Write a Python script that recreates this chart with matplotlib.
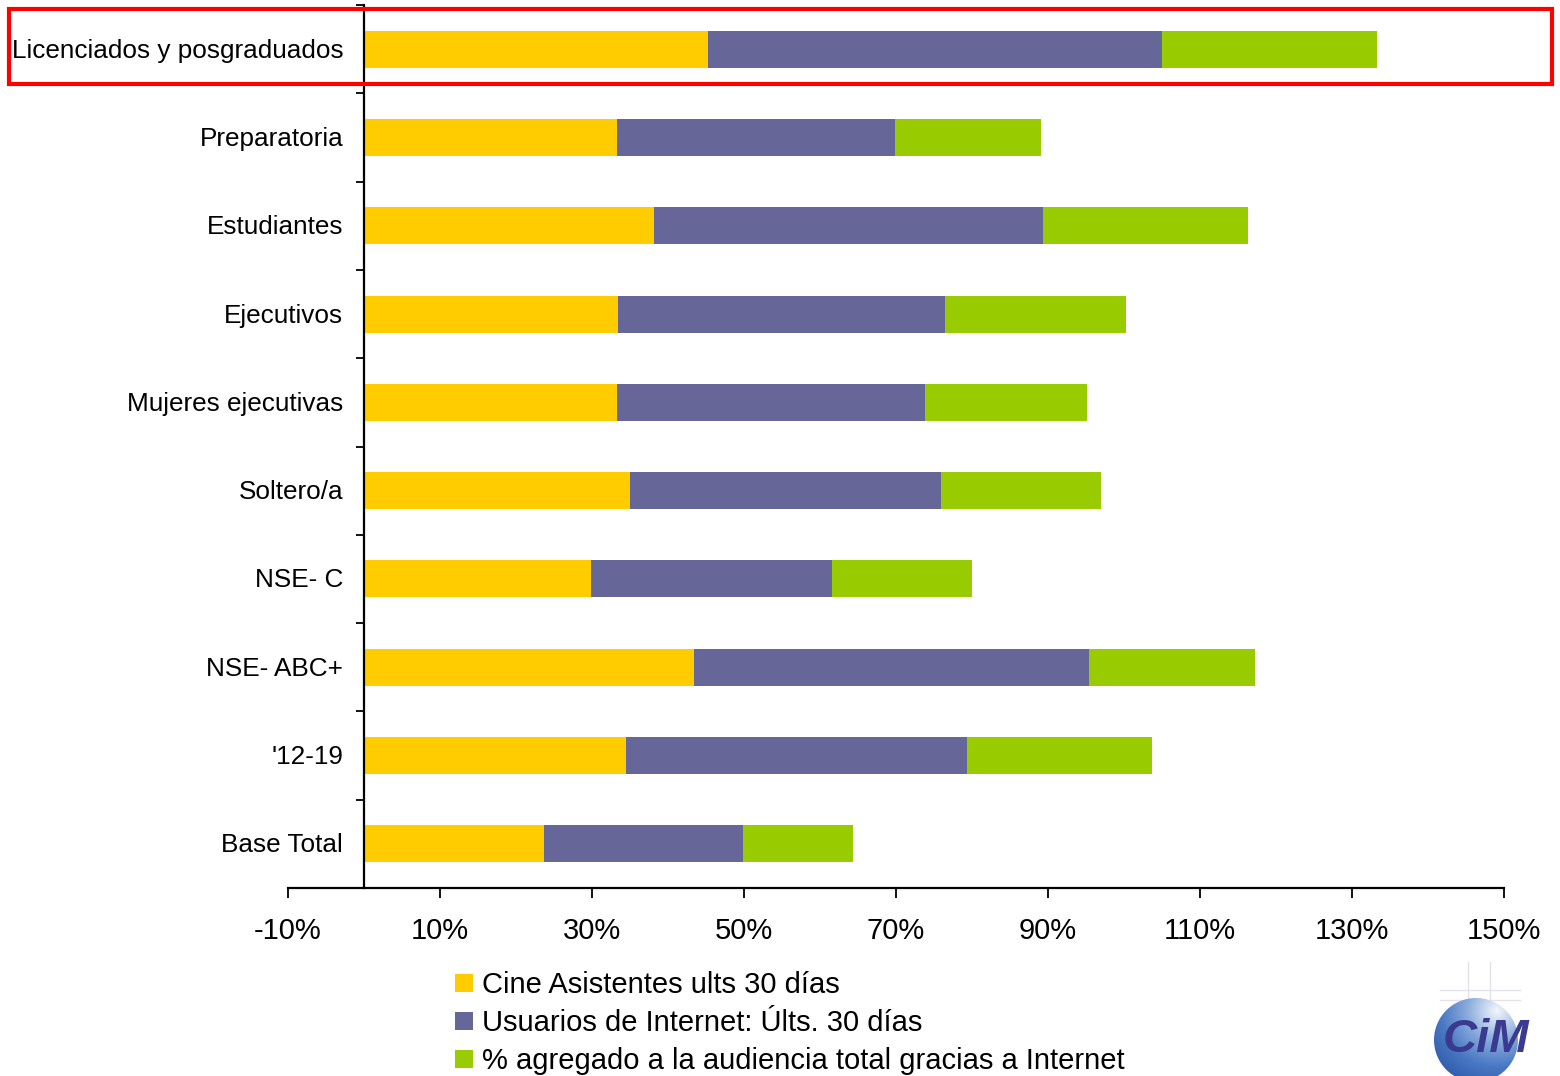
import numpy as np
import matplotlib
matplotlib.use("Agg")
import matplotlib.pyplot as plt
import matplotlib.transforms as mtransforms
from matplotlib.patches import Rectangle, Circle
from matplotlib.colors import LinearSegmentedColormap

plt.rcParams['font.family'] = ['Liberation Sans', 'DejaVu Sans']

# Segments (percent), ordered bottom to top
categories = ["Base Total", "'12-19", "NSE- ABC+", "NSE- C", "Soltero/a",
              "Mujeres ejecutivas", "Ejecutivos", "Estudiantes", "Preparatoria",
              "Licenciados y posgraduados"]
cine = [23.7, 34.5, 43.4, 29.9, 35.0, 33.3, 33.4, 38.2, 33.3, 45.3]
internet = [26.2, 44.9, 52.0, 31.7, 40.9, 40.5, 43.0, 51.1, 36.6, 59.7]
agregado = [14.5, 24.3, 21.8, 18.4, 21.1, 21.3, 23.8, 27.0, 19.2, 28.3]

series_labels = ["Cine Asistentes ults 30 días",
                 "Usuarios de Internet: Últs. 30 días",
                 "% agregado a la audiencia total gracias a Internet"]
colors = ["#FFCC00", "#666699", "#99CC00"]
xticks = [-10, 10, 30, 50, 70, 90, 110, 130, 150]

W, H = 1560, 1076
fig = plt.figure(figsize=(W / 100, H / 100), dpi=100)
ax = fig.add_axes([288 / W, 1 - 888 / H, (1504 - 288) / W, (888 - 5) / H])

y = np.arange(len(categories))
cine_a = np.array(cine)
net_a = np.array(internet)
agr_a = np.array(agregado)
bh = 0.42
ax.barh(y, cine_a, height=bh, color=colors[0], label=series_labels[0])
ax.barh(y, net_a, left=cine_a, height=bh, color=colors[1], label=series_labels[1])
ax.barh(y, agr_a, left=cine_a + net_a, height=bh, color=colors[2], label=series_labels[2])

ax.set_xlim(-10, 150)
ax.set_ylim(-0.5, len(categories) - 0.5)

ax.spines['top'].set_visible(False)
ax.spines['right'].set_visible(False)
ax.spines['left'].set_position(('data', 0))
ax.spines['left'].set_linewidth(1.6)
ax.spines['bottom'].set_linewidth(1.6)

ax.set_xticks(xticks)
ax.set_xticklabels([f"{v}%" for v in xticks], fontsize=21)
ax.tick_params(axis='x', direction='out', length=7, width=1.3, pad=14)

ax.set_yticks(y)
ax.set_yticklabels(categories, fontsize=18.8)
ax.tick_params(axis='y', which='major', length=0, pad=15)
shift = mtransforms.ScaledTranslation(0, -1.5 / 100, fig.dpi_scale_trans)
for t in ax.get_yticklabels():
    t.set_verticalalignment('center')
    t.set_transform(t.get_transform() + shift)
ax.set_yticks(np.arange(-0.5, len(categories), 1.0), minor=True)
ax.tick_params(axis='y', which='minor', direction='out', length=6, width=1.3)

# Legend rows below the plot
leg_rows = [983, 1021, 1059]
for lab, col, yr in zip(series_labels, colors, leg_rows):
    fig.patches.append(Rectangle((455 / W, 1 - (yr + 9) / H), 18 / W, 18 / H,
                                 transform=fig.transFigure, facecolor=col,
                                 edgecolor='none'))
    fig.text(482 / W, 1 - (yr + 2) / H, lab, fontsize=21, va='center', ha='left')

# Highlight box around the top row
fig.patches.append(Rectangle((9 / W, 1 - 84 / H), (1552 - 9) / W, (84 - 9) / H,
                             transform=fig.transFigure, fill=False,
                             edgecolor='#FF0000', linewidth=3))

# Corner logo
lax = fig.add_axes([1400 / W, 0, 160 / W, 120 / H])
lax.set_xlim(1400, 1560)
lax.set_ylim(1076, 956)
lax.axis('off')
for gx in (1468, 1490):
    lax.plot([gx, gx], [962, 1010], color='#e2e2ea', lw=1)
for gy in (990, 1000):
    lax.plot([1440, 1520], [gy, gy], color='#e2e2ea', lw=1)
gy_, gx_ = np.mgrid[0:1:200j, 0:1:200j]
grad = np.hypot(gx_ - 0.75, gy_ - 0.15)
sphere = LinearSegmentedColormap.from_list(
    "sphere", ["#f4f6fb", "#8fb0de", "#4a78c4", "#2c58a8"])
img = lax.imshow(grad, extent=(1434, 1518, 1082, 998), cmap=sphere,
                 vmin=0.0, vmax=1.0, zorder=2)
circ = Circle((1476, 1040), 42, transform=lax.transData)
img.set_clip_path(circ)
lax.text(1486, 1040, "CiM", fontsize=34, fontstyle='italic', fontweight='bold',
         color='#3a3a90', ha='center', va='center', zorder=3)

fig.savefig("out.png", dpi=100)
